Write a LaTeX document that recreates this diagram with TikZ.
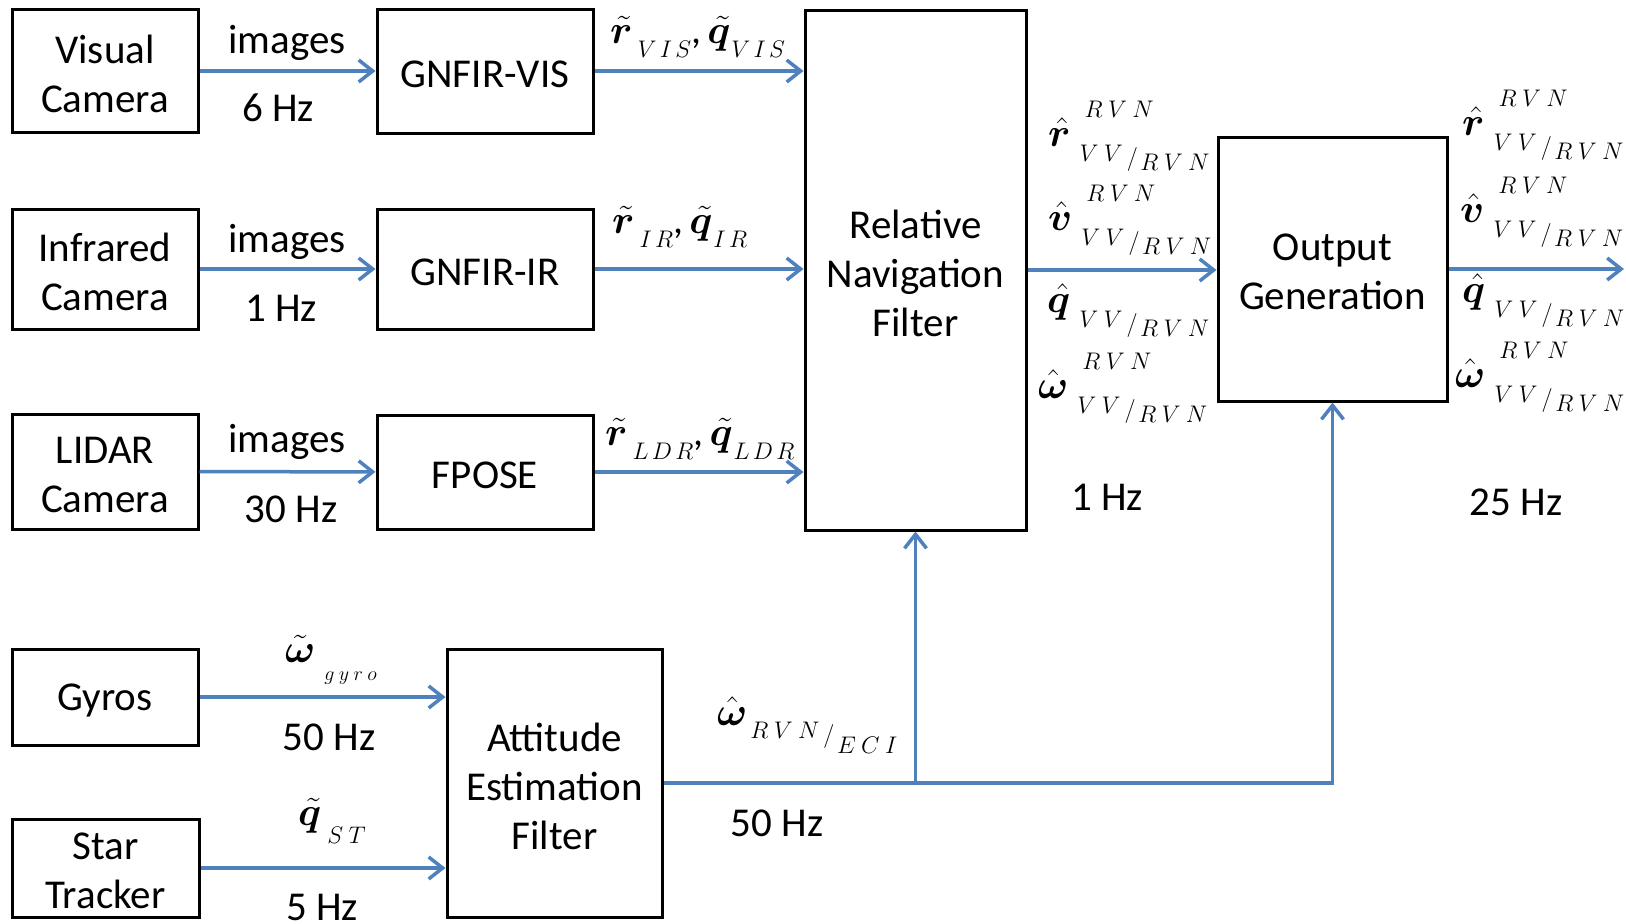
\RequirePackage{fix-cm}
\documentclass[tikz,border=0pt]{standalone}
\usepackage{amsmath}
\usepackage{bm}
\usepackage{fontspec}
\setmainfont{Carlito}
\usetikzlibrary{arrows.meta}
\definecolor{arrowblue}{RGB}{79,129,189}
\DeclareMathSizes{40}{40}{24}{20}
\newcommand{\lsp}{\mkern4mu}
\newcommand{\tsp}{\mkern2.5mu}
\newcommand{\suprvn}{\rlap{\raisebox{29pt}{\hspace{5pt}$\scriptstyle R\lsp V\lsp N$}}}
\newcommand{\subvv}{\raisebox{-15pt}{$\scriptstyle V\lsp V\mkern3mu$\raisebox{-4pt}{$\scriptstyle /$}\raisebox{-9pt}{$\scriptstyle \mkern2mu R\lsp V\lsp N$}}}
\newcommand{\hatfull}[1]{$#1$\hspace{9pt}\suprvn\subvv}
\newcommand{\hatsub}[1]{$#1$\hspace{9pt}\subvv}
\newcommand{\tsub}[1]{\raisebox{-14pt}{$\scriptstyle #1$}}
\begin{document}
\begin{tikzpicture}[x=1pt,y=-1pt,
  blk/.style={draw, line width=3pt, inner sep=0pt,
    label={[align=center, inner sep=0pt, yshift=-3pt, font=\fontsize{41}{49}\selectfont]center:#1}},
  lbl/.style={font=\fontsize{41}{49}\selectfont, inner sep=0pt},
  mlbl/.style={font=\fontsize{40}{48}\selectfont, inner sep=0pt, anchor=base west},
  flow/.style={draw=arrowblue, line width=3.5pt, -{Straight Barb[length=14pt,width=22pt,line width=3.5pt]}}]
\useasboundingbox (0,0) rectangle (1626,924);
% blocks
\node[blk={Visual\\Camera}, minimum width=186pt, minimum height=123pt] (vis) at (105,71) {};
\node[blk={Infrared\\Camera}, minimum width=186pt, minimum height=120pt] (ir) at (105,269) {};
\node[blk={LIDAR\\Camera}, minimum width=186pt, minimum height=115pt] (ldr) at (105,471.5) {};
\node[blk={Gyros}, minimum width=186pt, minimum height=96pt] (gyro) at (105,697) {};
\node[blk={Star\\Tracker}, minimum width=187pt, minimum height=98pt] (star) at (105.5,868) {};
\node[blk={GNFIR-VIS}, minimum width=216pt, minimum height=124pt] (gvis) at (485,71) {};
\node[blk={GNFIR-IR}, minimum width=216pt, minimum height=120pt] (gir) at (485,269) {};
\node[blk={FPOSE}, minimum width=216pt, minimum height=114pt] (fpose) at (485,472) {};
\node[blk={Relative\\Navigation\\Filter}, minimum width=221pt, minimum height=520pt] (rnf) at (915.5,270) {};
\node[blk={Output\\Generation}, minimum width=229pt, minimum height=264pt] (og) at (1332.5,269) {};
\node[blk={Attitude\\Estimation\\Filter}, minimum width=215pt, minimum height=268pt] (aef) at (554.5,783) {};
% connectors
\draw[flow] (vis) -- (gvis);
\draw[flow] (ir) -- (gir);
\draw[flow] (ldr) -- (fpose);
\draw[flow] (gvis.east) -- (gvis.east -| rnf.west);
\draw[flow] (gir.east) -- (gir.east -| rnf.west);
\draw[flow] (fpose.east) -- (fpose.east -| rnf.west);
\draw[flow] (rnf.east) -- (rnf.east -| og.west);
\coordinate (out) at (1624,269);
\draw[flow] (og.east) -- (out);
\draw[flow] (gyro.east) -- (gyro.east -| aef.west);
\draw[flow] (star.east) -- (star.east -| aef.west);
\coordinate (turn) at (aef.east -| og.south);
\coordinate (branch) at (aef.east -| rnf.south);
\draw[flow] (aef.east) -- (turn) -- (og.south);
\draw[flow] (branch) -- (rnf.south);
% labels
\node[lbl] (l1) at (287,43) {images};
\node[lbl] (l2) at (278,108) {6 Hz};
\node[lbl] (l3) at (287,242) {images};
\node[lbl] (l4) at (281,308) {1 Hz};
\node[lbl] (l5) at (287,442) {images};
\node[lbl] (l6) at (291,509) {30 Hz};
\node[lbl] (l7) at (329,737) {50 Hz};
\node[lbl] (l8) at (322,907) {5 Hz};
\node[lbl] (l9) at (777,823) {50 Hz};
\node[lbl] (l10) at (1107,497) {1 Hz};
\node[lbl] (l11) at (1516,502) {25 Hz};
% math labels
\node[mlbl] (m1) at (610,43) {$\tilde{\bm r}$\hspace{5pt}\tsub{V\tsp I\tsp S},\hspace{6pt}$\tilde{\bm q}$\hspace{1pt}\tsub{V\tsp I\tsp S}};
\node[mlbl] (m2) at (612,233) {$\tilde{\bm r}$\hspace{5pt}\tsub{I\tsp R},\hspace{6pt}$\tilde{\bm q}$\hspace{1pt}\tsub{I\tsp R}};
\node[mlbl] (m3) at (605,445) {$\tilde{\bm r}$\hspace{5pt}\tsub{L\tsp D\tsp R},\hspace{6pt}$\tilde{\bm q}$\hspace{1pt}\tsub{L\tsp D\tsp R}};
\node[mlbl] (m4) at (285,662) {$\tilde{\bm\omega}$\hspace{9pt}\raisebox{-18pt}{$\scriptscriptstyle g\lsp y\lsp r\lsp o$}};
\node[mlbl] (m5) at (298,825) {$\tilde{\bm q}$\hspace{6pt}\raisebox{-18pt}{$\scriptstyle S\lsp T$}};
\node[mlbl] (m6) at (717,725) {$\hat{\bm\omega}$\hspace{3pt}\raisebox{-13pt}{$\scriptstyle R\lsp V\lsp N\mkern3mu$\raisebox{-4pt}{$\scriptstyle /$}\raisebox{-15pt}{$\scriptstyle \mkern2mu E\lsp C\lsp I$}}};
\node[mlbl] (a1) at (1048,146) {\hatfull{\hat{\bm r}}};
\node[mlbl] (a2) at (1048,230) {\hatfull{\hat{\bm v}}};
\node[mlbl] (a3) at (1047,312) {\hatsub{\hat{\bm q}}};
\node[mlbl] (a4) at (1038,398) {\hatfull{\hat{\bm\omega}}};
\node[mlbl] (b1) at (1462,135) {\hatfull{\hat{\bm r}}};
\node[mlbl] (b2) at (1460,222) {\hatfull{\hat{\bm v}}};
\node[mlbl] (b3) at (1462,302) {\hatsub{\hat{\bm q}}};
\node[mlbl] (b4) at (1455,387) {\hatfull{\hat{\bm\omega}}};
\end{tikzpicture}
\end{document}
